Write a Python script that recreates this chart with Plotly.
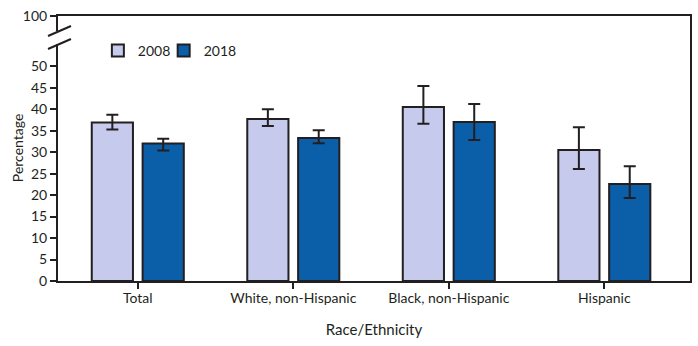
import plotly.graph_objects as go

# Prevalence by race/ethnicity, 2008 vs 2018, with 95% confidence intervals
categories = ["Total", "White, non-Hispanic", "Black, non-Hispanic", "Hispanic"]
pct_2008 = [36.9, 37.7, 40.5, 30.5]
ci_hi_2008 = [38.7, 40.0, 45.4, 35.8]
ci_lo_2008 = [35.3, 36.1, 36.6, 26.1]
pct_2018 = [32.0, 33.3, 37.0, 22.6]
ci_hi_2018 = [33.1, 35.1, 41.2, 26.7]
ci_lo_2018 = [30.4, 32.1, 32.8, 19.3]
y_tick_vals = [0, 5, 10, 15, 20, 25, 30, 35, 40, 45, 50]
y_tick_text = [str(v) for v in y_tick_vals]

# The axis is broken above 50; the top of the frame stands for 100.
Y_TOP = 61.7
TOP_LABEL = "100"

INK = "#231f20"
FONT = dict(family="Lato, Open Sans, sans-serif", size=14, color=INK)

W, H = 698, 346
ML, MR, MT, MB = 58, 6, 16, 65


def err(vals, hi, lo):
    return dict(
        type="data",
        symmetric=False,
        array=[h - v for v, h in zip(vals, hi)],
        arrayminus=[v - l for v, l in zip(vals, lo)],
        color=INK,
        thickness=2,
        width=6,
    )


fig = go.Figure()
fig.add_trace(go.Bar(
    name="2008", x=categories, y=pct_2008, legend="legend",
    marker=dict(color="#c6cbee", line=dict(color=INK, width=2)),
    error_y=err(pct_2008, ci_hi_2008, ci_lo_2008),
))
fig.add_trace(go.Bar(
    name="2018", x=categories, y=pct_2018, legend="legend2",
    marker=dict(color="#0b5ea8", line=dict(color=INK, width=2)),
    error_y=err(pct_2018, ci_hi_2018, ci_lo_2018),
))

pw = W - ML - MR
ph = H - MT - MB


def px_x(px):
    return (px - ML) / pw


def px_y(py):
    return (H - MB - py) / ph


shapes = [
    # gap in the y-axis line
    dict(type="rect", xref="paper", yref="paper",
         x0=px_x(54), x1=px_x(62), y0=px_y(44), y1=px_y(31),
         fillcolor="white", line=dict(width=0), layer="above"),
    # break marks
    dict(type="line", xref="paper", yref="paper",
         x0=px_x(48), y0=px_y(36), x1=px_x(71), y1=px_y(26),
         line=dict(color=INK, width=2), layer="above"),
    dict(type="line", xref="paper", yref="paper",
         x0=px_x(48), y0=px_y(49), x1=px_x(71), y1=px_y(39),
         line=dict(color=INK, width=2), layer="above"),
]

legend_style = dict(orientation="h", y=px_y(51), xanchor="left", yanchor="middle",
                    font=dict(size=14), itemwidth=30, bgcolor="rgba(0,0,0,0)")

fig.update_layout(
    width=W, height=H,
    margin=dict(l=ML, r=MR, t=MT, b=MB),
    paper_bgcolor="white", plot_bgcolor="white",
    font=FONT,
    barmode="group",
    bargap=0.346,
    bargroupgap=0.19,
    showlegend=True,
    legend=dict(x=px_x(98), **legend_style),
    legend2=dict(x=px_x(164), **legend_style),
    shapes=shapes,
    annotations=[dict(
        text="Percentage", textangle=-90, showarrow=False,
        xref="paper", yref="paper", x=px_x(17), y=px_y(148),
        xanchor="center", yanchor="middle", font=dict(size=14),
    )],
    xaxis=dict(
        type="category",
        range=[-0.513, 3.551],
        showline=True, linecolor=INK, linewidth=2, mirror=True,
        ticks="outside", ticklen=6, tickwidth=2, tickcolor=INK,
        ticklabelstandoff=-3,
        showgrid=False,
        title=dict(text="Race/Ethnicity", font=dict(size=15), standoff=20),
    ),
    yaxis=dict(
        range=[0, Y_TOP],
        tickvals=y_tick_vals + [Y_TOP],
        ticktext=y_tick_text + [TOP_LABEL],
        showline=True, linecolor=INK, linewidth=2, mirror=True,
        ticks="outside", ticklen=6, tickwidth=2, tickcolor=INK,
        showgrid=False, zeroline=False,
    ),
)

fig.write_html("out.html")
